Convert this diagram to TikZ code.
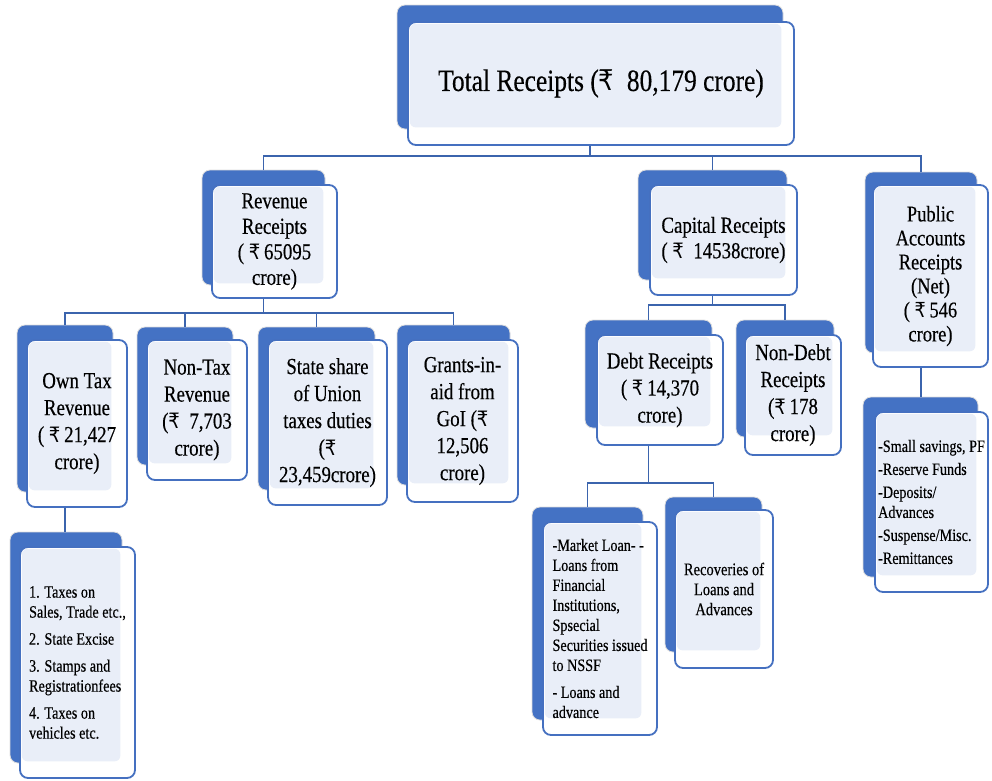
\documentclass[tikz,border=0pt]{standalone}
\usepackage{fontspec}
\setmainfont{Liberation Serif}[FakeStretch=0.82,FakeBold=0.35]
\newfontfamily\rsfont{DejaVu Sans}[FakeStretch=0.85,Scale=0.92]
\newcommand\Rs{{\rsfont ₹}}
\usetikzlibrary{fit}
\definecolor{blueA}{HTML}{4472C4}
\definecolor{blueB}{HTML}{4570C0}
\definecolor{blueC}{HTML}{3B64AD}
\definecolor{liteC}{HTML}{E9EEF8}
\definecolor{glowC}{HTML}{DDDDDD}
\tikzset{
  backbox/.style={fill=blueA, draw=glowC, line width=0.8pt, rounded corners=8pt, inner sep=0pt},
  frontfill/.style={fill=white, rounded corners=8pt, inner sep=0pt},
  frontline/.style={draw=blueB, line width=1.8pt, rounded corners=8pt, inner sep=0pt},
  lite/.style={fill=liteC, rounded corners=6pt},
  txt/.style={inner sep=0pt, align=center, text=black, anchor=center},
  conn/.style={draw=blueC, line width=1.6pt},
  ftop/.style={font=\fontsize{31}{36}\selectfont},
  fmid/.style={font=\fontsize{23}{25.5}\selectfont},
  fpub/.style={font=\fontsize{22.5}{24}\selectfont},
  flev/.style={font=\fontsize{23}{27}\selectfont},
  flist/.style={font=\fontsize{17.3}{20}\selectfont, align=left},
  frec/.style={font=\fontsize{17.7}{20}\selectfont},
}
\newcommand\ubox[5]{%
  \node[backbox, fit={#2}] (#1b) {};
  \node[frontfill, fit={#3}] (#1f) {};
  \fill[lite] ([shift={(2,2)}]#1f.north west) rectangle ([shift={(-2,-2)}]#1b.south east);
  \node[frontline, fit={#3}] (#1) {};
  \node[txt, #4] (#1t) at (#1.center) {#5};
}
\begin{document}
\begin{tikzpicture}[x=1pt, y=-1pt]
\useasboundingbox (0,0) rectangle (992,780);

% top
\ubox{top}{(397,5)(783,129)}{(408,22)(794,145)}{ftop}{Total Receipts (\Rs\ \ 80,179 crore)}
% level 2
\ubox{rev}{(202,170)(325,285)}{(212,185)(337,298)}{fmid}{Revenue\\Receipts\\( \Rs\,65095\\crore)}
\ubox{cap}{(638,170)(787,280)}{(650,185)(797,295)}{fmid}{Capital Receipts\\( \Rs\ \ 14538crore)}
\ubox{pub}{(865,172)(977,353)}{(873,185)(988,367)}{fpub}{Public\\Accounts\\Receipts\\(Net)\\( \Rs\,546\\crore)}
% level 3
\ubox{own}{(17,325)(113,492)}{(27,340)(127,507)}{flev}{Own Tax\\Revenue\\( \Rs\,21,427\\crore)}
\ubox{non}{(137,327)(233,465)}{(147,340)(247,480)}{flev}{Non-Tax\\Revenue\\(\Rs\ \ 7,703\\crore)}
\ubox{sta}{(258,327)(375,490)}{(268,340)(387,505)}{flev}{State share\\of Union\\taxes duties\\(\Rs\\23,459crore)}
\ubox{gra}{(397,325)(510,485)}{(407,340)(518,502)}{flev}{Grants-in-\\aid from\\GoI (\Rs\\12,506\\crore)}
\ubox{debt}{(585,320)(712,428)}{(597,335)(723,445)}{flev}{Debt Receipts\\( \Rs\,14,370\\crore)}
\ubox{nond}{(736,320)(834,437)}{(745,335)(841,455)}{flev}{Non-Debt\\Receipts\\(\Rs\,178\\crore)}
% level 4
\ubox{otl}{(10,532)(122,763)}{(20,547)(135,778)}{flist}{1. Taxes on\\Sales, Trade etc.,\\[7pt]2. State Excise\\[7pt]3. Stamps and\\Registrationfees\\[7pt]4. Taxes on\\vehicles etc.}
\ubox{mkt}{(532,507)(643,720)}{(543,522)(657,735)}{flist}{-Market Loan- -\\Loans from\\Financial\\Institutions,\\Spsecial\\Securities issued\\to NSSF\\[7pt]- Loans and\\advance}
\ubox{rec}{(665,497)(762,652)}{(675,510)(773,668)}{frec}{Recoveries of\\Loans and\\Advances}
\ubox{pul}{(863,397)(978,577)}{(875,412)(988,592)}{flist}{-Small savings, PF\\[3pt]-Reserve Funds\\[3pt]-Deposits/\\Advances\\[3pt]-Suspense/Misc.\\[3pt]-Remittances}

% bus coordinates
\coordinate (bus1) at (0,156);
\coordinate (bus2) at (0,313);
\coordinate (bus3) at (0,305);
\coordinate (bus4) at (0,483);

% connectors
\draw[conn] (topb.center |- top.south) -- (topb.center |- bus1);
\draw[conn] (revb.north) -- (revb.north |- bus1) -- (pubb.north |- bus1) -- (pubb.north);
\draw[conn] (capb.north) -- (capb.north |- bus1);

\draw[conn] (revb.center |- rev.south) -- (revb.center |- bus2);
\draw[conn] (ownb.north) -- (ownb.north |- bus2) -- (grab.north |- bus2) -- (grab.north);
\draw[conn] (nonb.north) -- (nonb.north |- bus2);
\draw[conn] (stab.north) -- (stab.north |- bus2);

\draw[conn] (capb.center |- cap.south) -- (capb.center |- bus3);
\draw[conn] (debtb.north) -- (debtb.north |- bus3) -- (nondb.north |- bus3) -- (nondb.north);

\draw[conn] (debtb.center |- debt.south) -- (debtb.center |- bus4);
\draw[conn] (mktb.north) -- (mktb.north |- bus4) -- (recb.north |- bus4) -- (recb.north);

\draw[conn] (ownb.center |- own.south) -- (ownb.center |- otlb.north);
\draw[conn] (pubb.center |- pub.south) -- (pubb.center |- pulb.north);
\end{tikzpicture}
\end{document}
